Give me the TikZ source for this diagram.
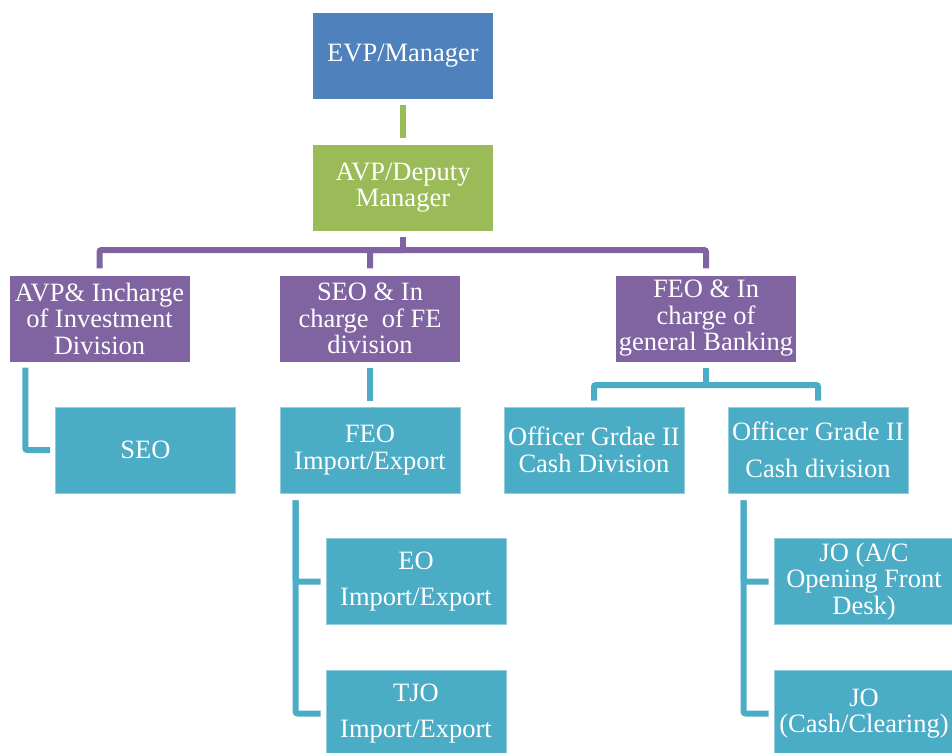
\documentclass[tikz,border=0pt]{standalone}
\usepackage{fontspec}
\setmainfont{Liberation Serif}
\usetikzlibrary{positioning}
\definecolor{orgblue}{RGB}{79, 129, 189}
\definecolor{orggreen}{RGB}{155, 187, 89}
\definecolor{orgpurple}{RGB}{128, 100, 162}
\definecolor{orgcyan}{RGB}{75, 172, 198}

\begin{document}
\begin{tikzpicture}[x=1pt, y=-1pt,
  every node/.style={font=\fontsize{26.5}{26.5}\selectfont, text=white, align=center, inner sep=0pt},
  orgbox/.style={minimum width=180pt, minimum height=86pt},
  bluebox/.style={orgbox, fill=orgblue},
  greenbox/.style={orgbox, fill=orggreen},
  purplebox/.style={orgbox, fill=orgpurple},
  cyanbox/.style={orgbox, fill=orgcyan, draw=orgcyan!60!white, line width=0.8pt},
  link/.style={line width=6pt, rounded corners=2pt}]
  \useasboundingbox (0,0) rectangle (952,752);

  % Top management
  \node[bluebox] (evp) at (403,56) {EVP/Manager};
  \node[greenbox] (avp) at (403,187.5) {AVP/Deputy\\Manager};

  % Division heads
  \node[purplebox] (inv) at (99.5,318.5) {AVP\& Incharge\\of Investment\\Division};
  \node[purplebox] (fe) at (370,318.5) {SEO \& In\\charge~ of FE\\division};
  \node[purplebox] (gb) at (706,318.5) {FEO \& In\\charge of\\general Banking};

  % Officers
  \node[cyanbox] (seo) at (145.5,450) {SEO};
  \node[cyanbox] (feo) at (370,450) {FEO\\Import/Export};
  \node[cyanbox] (og1) at (594,450) {Officer Grdae II\\Cash Division};
  \node[cyanbox] (og2) at (818,450) {Officer Grade II\\[11pt]Cash division};

  % Junior officers
  \node[cyanbox] (eo) at (416,581.5) {EO\\[10pt]Import/Export};
  \node[cyanbox] (tjo) at (416,713.5) {TJO\\[10pt]Import/Export};
  \node[cyanbox] (jo1) at (864,581.5) {JO (A/C\\Opening Front\\Desk)};
  \node[cyanbox] (jo2) at (864,713.5) {JO\\(Cash/Clearing)};

  % Green link
  \draw[link, orggreen, shorten <=6pt, shorten >=6pt] (evp.south) -- (avp.south |- avp.north);

  % Purple bar
  \coordinate (pbar) at (403,250);
  \draw[link, orgpurple, shorten <=6pt] (avp.south) -- (pbar);
  \draw[link, orgpurple, shorten >=7pt] (pbar) -| (inv.north);
  \draw[link, orgpurple, shorten >=7pt] (pbar) -| (fe.north);
  \draw[link, orgpurple, shorten >=7pt] (pbar) -| (gb.north);

  % Cyan links
  \draw[link, orgcyan, shorten <=6pt, shorten >=5pt] ([xshift=16pt]inv.south west) |- (seo.west);
  \draw[link, orgcyan, shorten <=6pt, shorten >=6pt] (fe.south) -- (feo.north);
  \draw[link, orgcyan, shorten <=7pt, shorten >=5pt] ([xshift=16pt]feo.south west) |- (eo.west);
  \draw[link, orgcyan, shorten <=7pt, shorten >=5pt] ([xshift=16pt]feo.south west) |- (tjo.west);
  \coordinate (gbar) at (706,385);
  \draw[link, orgcyan, shorten <=6pt] (gb.south) -- (gbar);
  \draw[link, orgcyan, shorten >=6pt] (gbar) -| (og1.north);
  \draw[link, orgcyan, shorten >=6pt] (gbar) -| (og2.north);
  \draw[link, orgcyan, shorten <=7pt, shorten >=5pt] ([xshift=16pt]og2.south west) |- (jo1.west);
  \draw[link, orgcyan, shorten <=7pt, shorten >=5pt] ([xshift=16pt]og2.south west) |- (jo2.west);
\end{tikzpicture}
\end{document}
